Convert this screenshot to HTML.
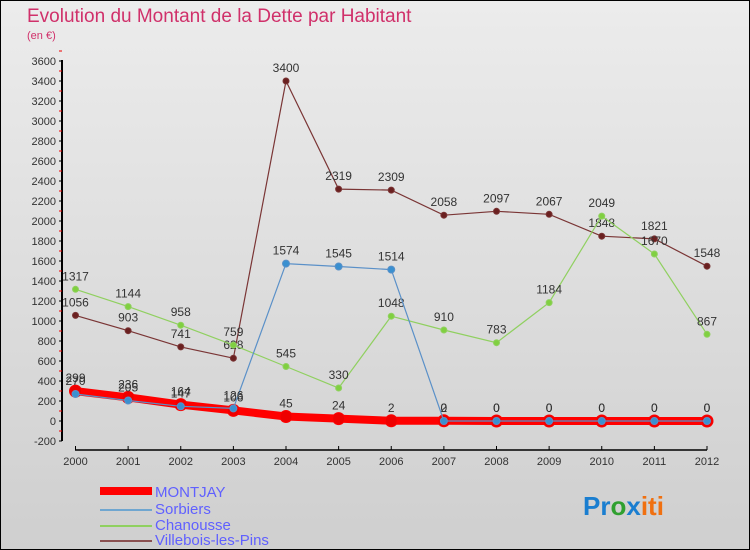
<!DOCTYPE html>
<html><head><meta charset="utf-8"><style>
body{margin:0;width:750px;height:550px;overflow:hidden;font-family:"Liberation Sans",sans-serif}
#wrap{position:absolute;left:0;top:0;width:748px;height:548px;border:1px solid #000;background:linear-gradient(#ececec,#cfcfcf)}
</style></head><body>
<div id="wrap">
<svg id="chart" width="750" height="550" style="position:absolute;left:-1px;top:-1px">
<text x="27" y="22" font-size="19" fill="#d0306a">Evolution du Montant de la Dette par Habitant</text>
<text x="27" y="39" font-size="11" fill="#d0306a">(en €)</text>
<g id="axes"></g><g id="series"></g>
<g>
<rect x="100" y="487" width="52" height="8" fill="#f00"/>
<text x="155" y="497" font-size="15" fill="#6060ff">MONTJAY</text>
<rect x="100" y="509" width="52" height="2" fill="#6fa6d0"/>
<text x="155" y="514" font-size="15" fill="#6060ff">Sorbiers</text>
<rect x="100" y="525" width="52" height="2" fill="#8fd060"/>
<text x="155" y="530" font-size="15" fill="#6060ff">Chanousse</text>
<rect x="100" y="540" width="52" height="2" fill="#8a5050"/>
<text x="155" y="545" font-size="15" fill="#6060ff">Villebois-les-Pins</text>
</g>
<text x="583" y="515" font-size="26" font-weight="bold"><tspan fill="#1a7ed0">Pr</tspan><tspan fill="#30a030">o</tspan><tspan fill="#1a7ed0">x</tspan><tspan fill="#f07010">iti</tspan></text>
</svg></div>
<script>
const years=[2000,2001,2002,2003,2004,2005,2006,2007,2008,2009,2010,2011,2012];
const yTicks=[-200,0,200,400,600,800,1000,1200,1400,1600,1800,2000,2200,2400,2600,2800,3000,3200,3400,3600];
const montjay=[299,236,164,106,45,24,2,2,0,0,0,0,0];
const sorbiers=[270,205,147,126,1574,1545,1514,0,0,0,0,0,0];
const chanousse=[1317,1144,958,759,545,330,1048,910,783,1184,2049,1670,867];
const villebois=[1056,903,741,628,3400,2319,2309,2058,2097,2067,1848,1821,1548];
const NS="http://www.w3.org/2000/svg";
const x=i=>75.5+i*(707-75.5)/12;
const y=v=>421-v*0.1;
function mk(p,t,a){const e=document.createElementNS(NS,t);for(const k in a)e.setAttribute(k,a[k]);p.appendChild(e);return e;}
const ax=document.getElementById('axes');
const yl=mk(ax,'line',{x1:62,y1:60,x2:62,y2:441,stroke:'#000','stroke-width':2});


const xl=mk(ax,'line',{x1:75,y1:450,x2:707,y2:450,stroke:'#000','stroke-width':1.5});


yTicks.forEach(v=>{
 mk(ax,'line',{x1:59,y1:y(v),x2:62,y2:y(v),stroke:'#000'});
 mk(ax,'line',{x1:59,y1:y(v+100),x2:62,y2:y(v+100),stroke:'#e00'});
 const t=mk(ax,'text',{x:56,y:y(v)+4,'font-size':11,'text-anchor':'end',fill:'#333'});
 t.textContent=v;
 
 
});
years.forEach((yr,i)=>{
 mk(ax,'line',{x1:x(i),y1:446,x2:x(i),y2:450,stroke:'#000'});
 const t=mk(ax,'text',{x:x(i),y:465,'font-size':11,'text-anchor':'middle',fill:'#333'});
 t.textContent=yr;
 
 
});
const sg=document.getElementById('series');
function draw(data,name,color,w,r,dot){
 const g=mk(sg,'g',{});
 
 
 mk(g,'polyline',{points:data.map((v,i)=>x(i)+','+y(v)).join(' '),fill:'none',stroke:color,'stroke-width':w});
 data.forEach((v,i)=>{
  const c=mk(g,'circle',{cx:x(i),cy:y(v),r:r,fill:dot,stroke:color,'stroke-width':1});
  
  
  const t=mk(g,'text',{x:x(i),y:y(v)-9,'font-size':12,'text-anchor':'middle',fill:'#333'});
  t.textContent=v;
  
  
 });
}
draw(villebois,'villebois','#7a3535',1.2,3,'#6a2020');
draw(chanousse,'chanousse','#90d060',1.2,3,'#80d040');
draw(montjay,'montjay','#f00',8,6,'#e00');
draw(sorbiers,'sorbiers','#5a90c8',1.2,3.5,'#3a90d0');
</script>
</body></html>
